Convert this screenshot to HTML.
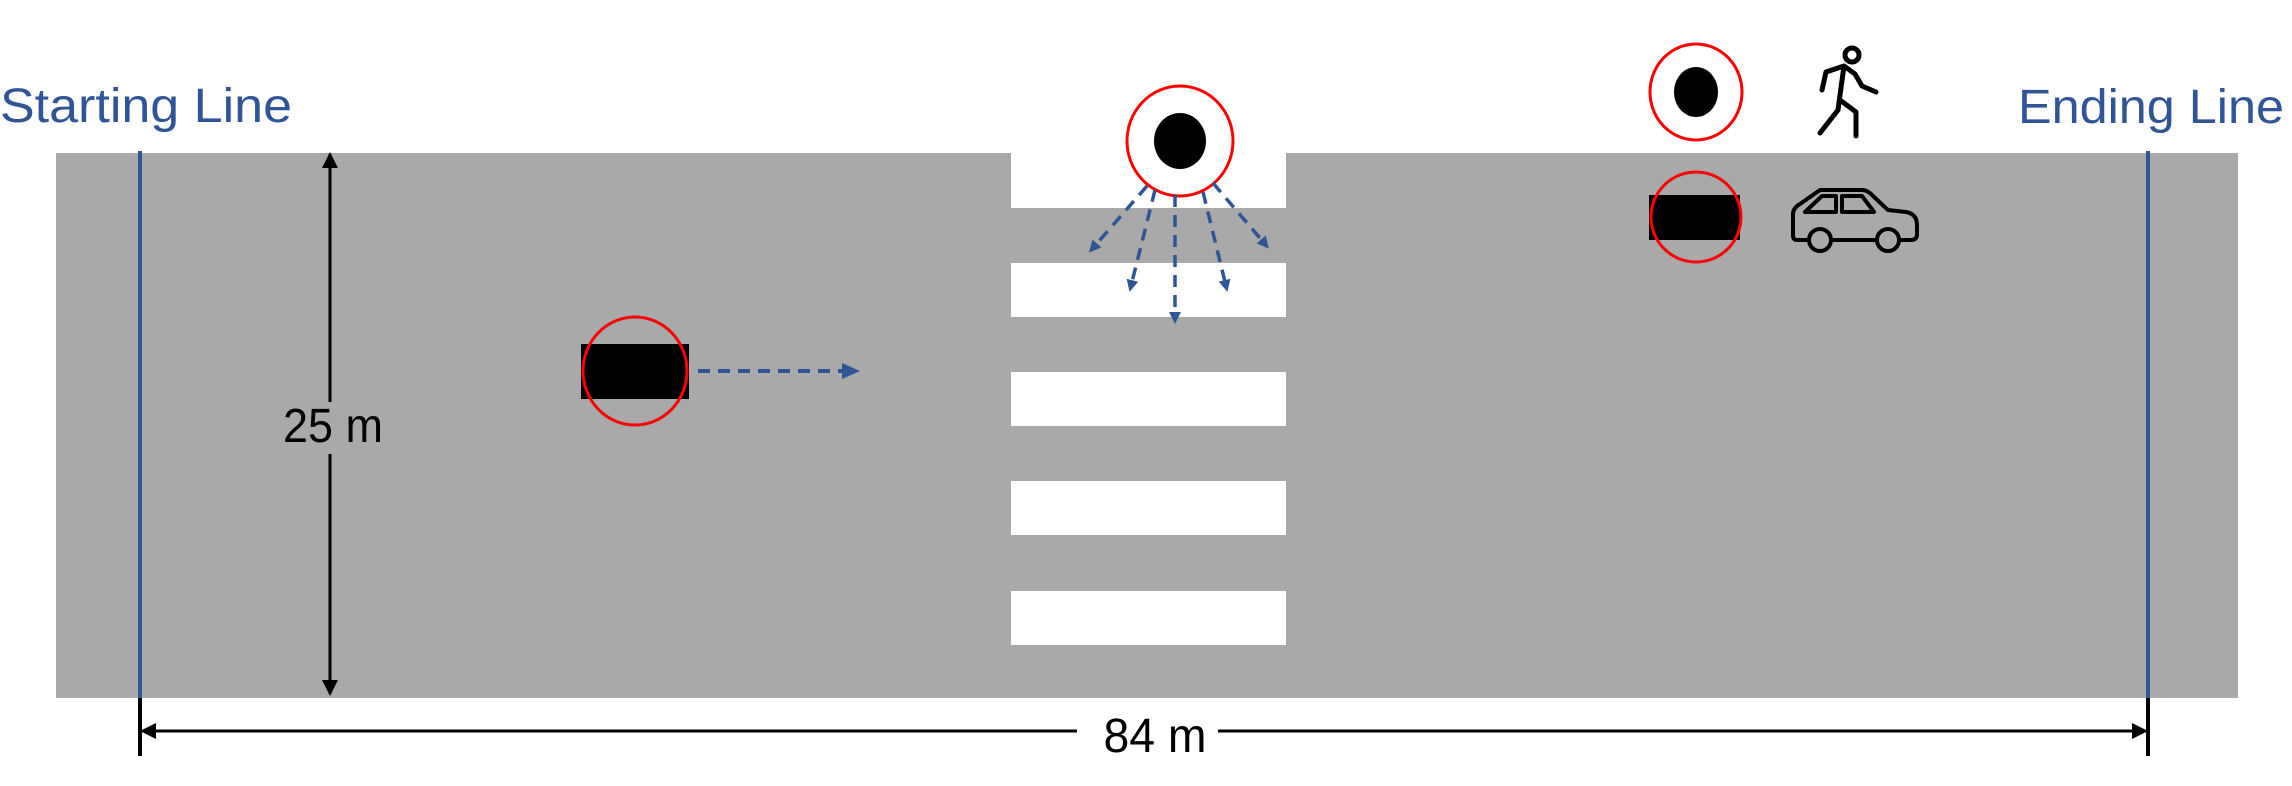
<!DOCTYPE html>
<html><head><meta charset="utf-8"><style>
html,body{margin:0;padding:0;background:#fff;}
svg{display:block;}
text{font-family:"Liberation Sans",sans-serif;}
</style></head><body>
<svg width="2292" height="786" viewBox="0 0 2292 786" xmlns="http://www.w3.org/2000/svg">
<defs>
<marker id="ab" markerWidth="12" markerHeight="12" refX="6" refY="6" orient="auto" markerUnits="userSpaceOnUse"><path d="M0,0 L12,6 L0,12 z" fill="#2f5597"/></marker>
<marker id="ak" markerWidth="16" markerHeight="16" refX="14" refY="8" orient="auto" markerUnits="userSpaceOnUse"><path d="M0,0 L16,8 L0,16 z" fill="#000"/></marker>
<marker id="abig" markerWidth="18" markerHeight="16" refX="14" refY="8" orient="auto" markerUnits="userSpaceOnUse"><path d="M0,0 L18,8 L0,16 z" fill="#2f5597"/></marker>
</defs>
<rect x="56" y="153" width="2182" height="545" fill="#a9a9a9"/>
<rect x="1011" y="150" width="275" height="58" fill="#fff"/>
<g fill="#fff">
<rect x="1011" y="263" width="275" height="54"/>
<rect x="1011" y="372" width="275" height="54"/>
<rect x="1011" y="481" width="275" height="54"/>
<rect x="1011" y="591" width="275" height="54"/>
</g>
<line x1="140" y1="151" x2="140" y2="698" stroke="#2f5597" stroke-width="4"/>
<line x1="2148" y1="151" x2="2148" y2="698" stroke="#2f5597" stroke-width="4"/>
<text x="0" y="122" font-size="48" fill="#2f5597" textLength="292" lengthAdjust="spacingAndGlyphs">Starting Line</text>
<text x="2018" y="123" font-size="48" fill="#2f5597" textLength="266" lengthAdjust="spacingAndGlyphs">Ending Line</text>
<line x1="330" y1="402" x2="330" y2="154" stroke="#000" stroke-width="3" marker-end="url(#ak)"/>
<line x1="330" y1="454" x2="330" y2="694" stroke="#000" stroke-width="3" marker-end="url(#ak)"/>
<text x="333" y="442" font-size="48" text-anchor="middle" textLength="100" lengthAdjust="spacingAndGlyphs">25 m</text>
<line x1="140" y1="698" x2="140" y2="756" stroke="#000" stroke-width="4"/>
<line x1="2148" y1="698" x2="2148" y2="756" stroke="#000" stroke-width="4"/>
<line x1="1077" y1="731" x2="142" y2="731" stroke="#000" stroke-width="3" marker-end="url(#ak)"/>
<line x1="1218" y1="731" x2="2146" y2="731" stroke="#000" stroke-width="3" marker-end="url(#ak)"/>
<text x="1155" y="752" font-size="48" text-anchor="middle" textLength="103" lengthAdjust="spacingAndGlyphs">84 m</text>
<g>
<rect x="581" y="344" width="108" height="55" fill="#000"/>
<ellipse cx="635" cy="371" rx="52" ry="54" fill="none" stroke="#f00" stroke-width="3"/>
</g>
<line x1="698" y1="371" x2="856" y2="371" stroke="#2f5597" stroke-width="4" stroke-dasharray="12,8" marker-end="url(#abig)"/>
<g>
<ellipse cx="1180" cy="141" rx="53" ry="55" fill="#fff" stroke="#f00" stroke-width="3"/>
<ellipse cx="1180" cy="141" rx="26" ry="28" fill="#000"/>
</g>
<g stroke="#2f5597" stroke-width="3.5" stroke-dasharray="12,8" fill="none">
<line x1="1147" y1="186" x2="1093" y2="248" marker-end="url(#ab)"/>
<line x1="1155" y1="190" x2="1131" y2="286" marker-end="url(#ab)"/>
<line x1="1175" y1="195" x2="1175" y2="318" marker-end="url(#ab)"/>
<line x1="1203" y1="192" x2="1226" y2="286" marker-end="url(#ab)"/>
<line x1="1213" y1="183" x2="1265" y2="244" marker-end="url(#ab)"/>
</g>
<g>
<ellipse cx="1696" cy="92" rx="46" ry="48" fill="#fff" stroke="#f00" stroke-width="3"/>
<ellipse cx="1696" cy="92" rx="22" ry="25" fill="#000"/>
<g fill="none" stroke="#000" stroke-width="5" stroke-linejoin="round" stroke-linecap="round">
<circle cx="1852" cy="55" r="7"/>
<path d="M1844,66 L1826,72 L1822,90 M1844,66 L1855,74 L1862,86 L1876,92 M1844,66 L1840,95 L1838,110 L1820,133 M1840,100 L1856,112 L1856,136"/>
</g>
</g>
<g>
<rect x="1649" y="195" width="91" height="45" fill="#000"/>
<ellipse cx="1696" cy="217" rx="45" ry="45" fill="none" stroke="#f00" stroke-width="3"/>
<g fill="none" stroke="#000" stroke-width="4" stroke-linejoin="round">
<path d="M1808,240 L1797,240 Q1793,240 1793,235 L1793,214 Q1793,208 1800,204 L1820,190 L1862,190 Q1868,190 1873,196 L1888,210 L1906,212 Q1917,214 1917,225 L1917,234 Q1917,240 1911,240 L1900,240 M1832,240 L1876,240"/>
<path d="M1805,212 L1822,196 L1836,196 L1836,212 Z M1842,196 L1862,196 L1874,212 L1842,212 Z"/>
<circle cx="1820" cy="240" r="11"/>
<circle cx="1888" cy="240" r="11"/>
</g>
</g>
</svg>
</body></html>
